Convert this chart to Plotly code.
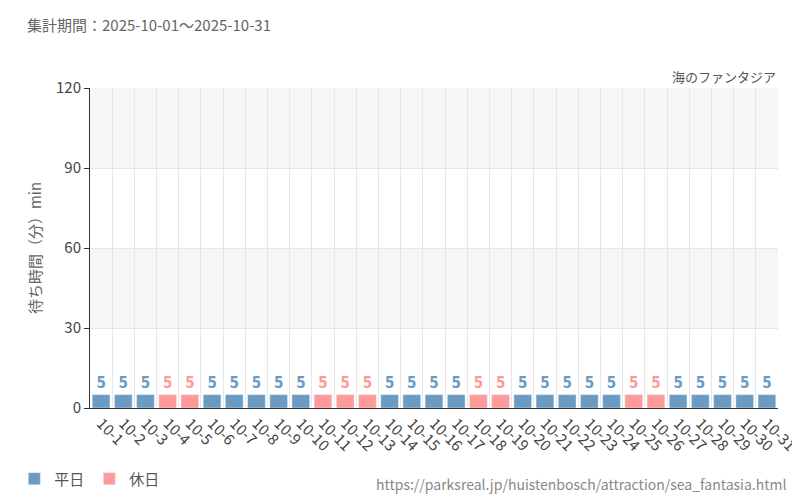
import plotly.graph_objects as go

dates = [f"10-{d}" for d in range(1, 32)]
waits = [5]*31
holidays = ["10-4","10-5","10-11","10-12","10-13","10-18","10-19","10-25","10-26"]
BLUE = "#6b9bc3"; PINK = "#ff9a9a"

xs = list(range(len(dates)))
wk = [i for i, d in enumerate(dates) if d not in holidays]
hd = [i for i, d in enumerate(dates) if d in holidays]

fig = go.Figure()
for idx, name, col in [(wk, "平日", BLUE), (hd, "休日", PINK)]:
    fig.add_bar(x=[xs[i] for i in idx], y=[waits[i] for i in idx], name=name,
                marker_color=col, width=0.8,
                text=["<b>%d</b>" % waits[i] for i in idx], textposition="outside",
                textfont=dict(color=col, size=15, family="DejaVu Sans Condensed"),
                cliponaxis=False)

for y0 in (30, 90):
    fig.add_shape(type="rect", xref="x", yref="y", x0=-0.5, x1=len(dates)-0.5, y0=y0, y1=y0+30,
                  fillcolor="#f6f6f6", line_width=0, layer="below")

fig.update_layout(
    width=800, height=500, plot_bgcolor="white", paper_bgcolor="white",
    margin=dict(l=82, r=30, t=80, b=100, autoexpand=False),
    font=dict(family="Noto Sans CJK JP", color="#555", size=14),
    bargap=0.2,
    legend=dict(orientation="h", x=-0.11, y=-0.17, xanchor="left", yanchor="top", font=dict(size=15)),
    xaxis=dict(range=[-0.5, len(dates)-0.5], tickvals=xs, ticktext=dates, tickangle=45,
               showgrid=False, showline=True, linecolor="#333", ticks="", automargin=False,
               tickfont=dict(size=15, color="#444"),
               minor=dict(tickvals=[i+0.5 for i in xs[:-1]], showgrid=True, gridcolor="#e6e6e6")),
    yaxis=dict(range=[0, 120], tickvals=[0, 30, 60, 90, 120], showgrid=True, gridcolor="#e6e6e6",
               showline=True, linecolor="#333", ticks="outside", ticklen=5, tickcolor="#333",
               automargin=False, tickfont=dict(size=15, color="#444"),
               title=dict(text="待ち時間（分）min", font=dict(size=15, color="#666"), standoff=10)),
    annotations=[
        dict(text="集計期間：2025-10-01～2025-10-31", xref="paper", yref="paper", x=-0.095, y=1.2,
             xanchor="left", yanchor="middle", showarrow=False, font=dict(size=15, color="#666")),
        dict(text="海のファンタジア", xref="paper", yref="paper", x=1, y=1.0, xanchor="right",
             yanchor="bottom", showarrow=False, font=dict(size=13, color="#555")),
        dict(text="https://parksreal.jp/huistenbosch/attraction/sea_fantasia.html", xref="paper", yref="paper",
             x=1.015, y=-0.2, xanchor="right", yanchor="top", showarrow=False, font=dict(size=14, color="#888")),
    ],
)
fig.write_html("out.html")
